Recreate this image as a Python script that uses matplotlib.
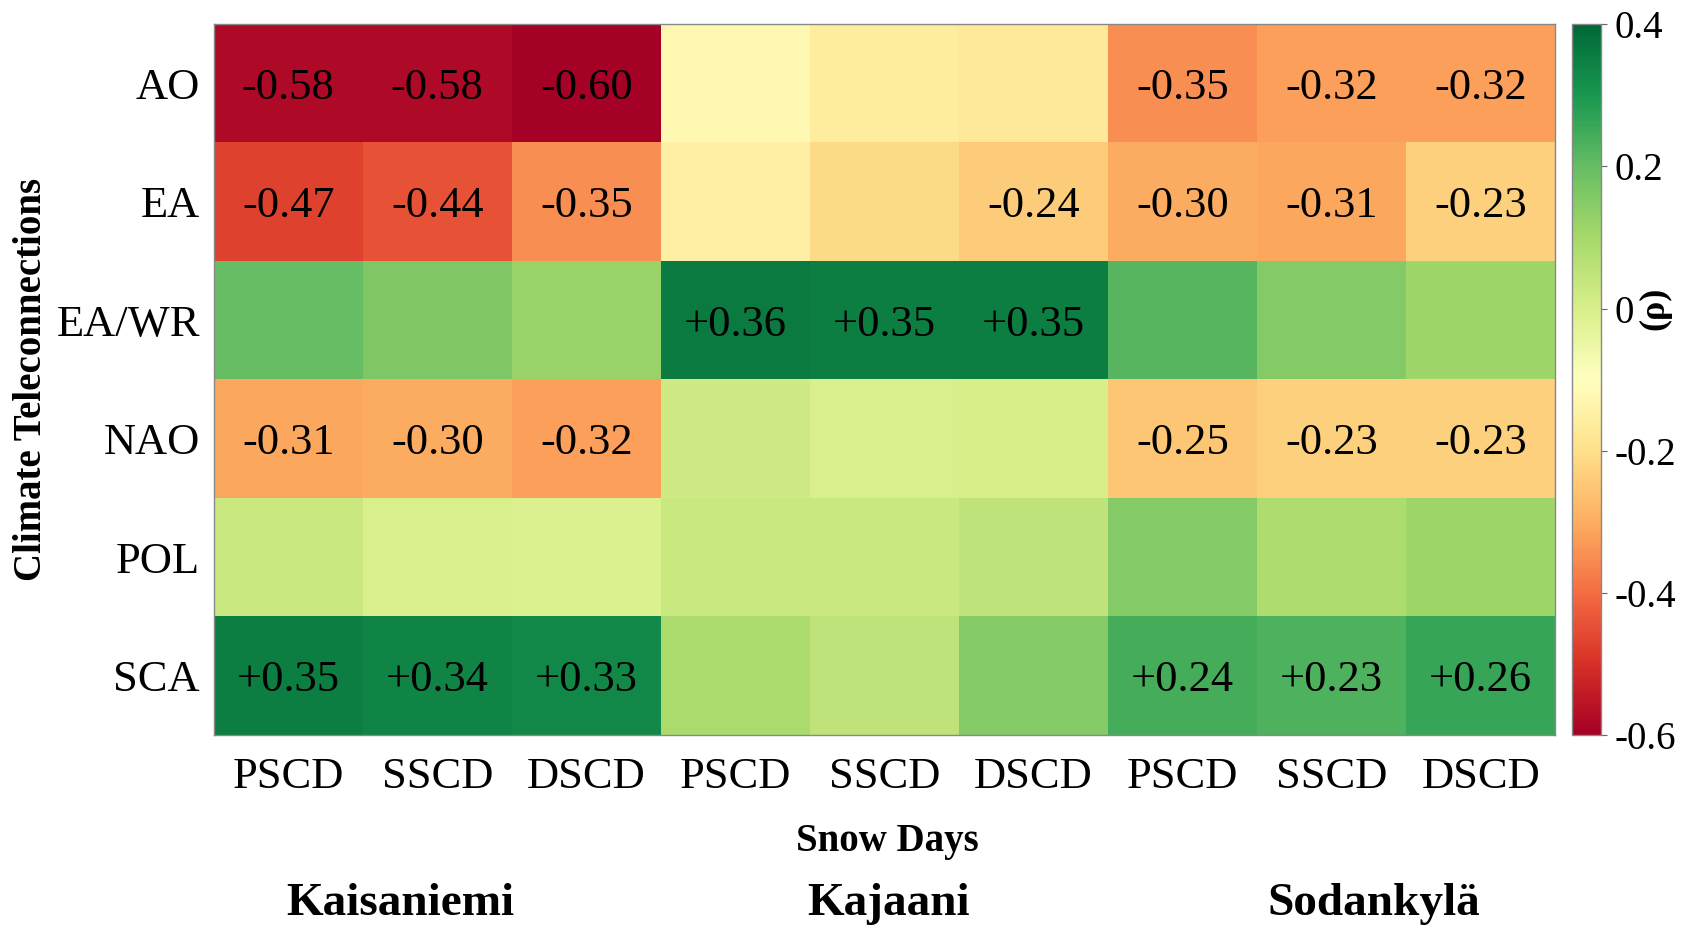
import numpy as np
import matplotlib
matplotlib.use("Agg")
import matplotlib.pyplot as plt

plt.rcParams['font.family'] = ['Liberation Serif', 'DejaVu Serif']

teleconnections = ["AO", "EA", "EA/WR", "NAO", "POL", "SCA"]
snow_days = ["PSCD", "SSCD", "DSCD"] * 3
stations = ["Kaisaniemi", "Kajaani", "Sodankylä"]

# correlation values (rows: teleconnections, cols: Kaisaniemi P/S/D, Kajaani P/S/D, Sodankylä P/S/D)
rho = np.array([
    [-0.58, -0.58, -0.60, -0.12, -0.16, -0.17, -0.35, -0.32, -0.32],
    [-0.47, -0.44, -0.35, -0.15, -0.21, -0.24, -0.30, -0.31, -0.23],
    [ 0.20,  0.16,  0.12,  0.36,  0.35,  0.35,  0.22,  0.15,  0.11],
    [-0.31, -0.30, -0.32,  0.02,  0.00,  0.005, -0.25, -0.23, -0.23],
    [ 0.03,  0.00, -0.01,  0.03,  0.03,  0.05,  0.15,  0.08,  0.11],
    [ 0.35,  0.34,  0.33,  0.09,  0.05,  0.15,  0.24,  0.23,  0.26],
])
# significant (annotated) cells
annot = np.array([
    [1, 1, 1, 0, 0, 0, 1, 1, 1],
    [1, 1, 1, 0, 0, 1, 1, 1, 1],
    [0, 0, 0, 1, 1, 1, 0, 0, 0],
    [1, 1, 1, 0, 0, 0, 1, 1, 1],
    [0, 0, 0, 0, 0, 0, 0, 0, 0],
    [1, 1, 1, 0, 0, 0, 1, 1, 1],
], dtype=bool)

cbar_ticks = [-0.6, -0.4, -0.2, 0.0, 0.2, 0.4]
cbar_labels = ["-0.6", "-0.4", "-0.2", "0", "0.2", "0.4"]

fig = plt.figure(figsize=(16.96, 9.31), dpi=100)
ax = fig.add_axes([0.126, 0.2105, 0.791, 0.7635])
cax = fig.add_axes([0.927, 0.2105, 0.017, 0.7635])

im = ax.imshow(rho, cmap="RdYlGn", vmin=-0.6, vmax=0.4, aspect="auto",
               interpolation="nearest")

for i in range(rho.shape[0]):
    for j in range(rho.shape[1]):
        if annot[i, j]:
            v = rho[i, j]
            txt = f"+{v:.2f}" if v > 0 else f"{v:.2f}"
            ax.text(j, i, txt, ha="center", va="center_baseline", fontsize=32, color="black")

ax.set_xticks(np.arange(len(snow_days)))
ax.set_xticklabels(snow_days, fontsize=32)
ax.set_yticks(np.arange(len(teleconnections)))
ax.set_yticklabels(teleconnections, fontsize=32)
ax.tick_params(axis="x", length=0, pad=16)
ax.tick_params(axis="y", length=0, pad=10)
for s in ax.spines.values():
    s.set_color("#888888")
    s.set_linewidth(1.0)

fig.text(32 / 1696, 1 - 379 / 931, "Climate Teleconnections", rotation=90,
         ha="center", va="center", fontsize=28, fontweight="bold")

fig.text(887 / 1696, 1 - 842 / 931, "Snow Days", ha="center", va="center",
         fontsize=28, fontweight="bold")
station_px = [400, 889, 1374]
for name, xp in zip(stations, station_px):
    fig.text(xp / 1696, 1 - 904 / 931, name, ha="center", va="center",
             fontsize=34, fontweight="bold")

cb = fig.colorbar(im, cax=cax, ticks=cbar_ticks)
cb.ax.set_yticklabels(cbar_labels, fontsize=28)
cb.ax.tick_params(length=4, width=0.8, color="#666666", pad=6)
cb.outline.set_edgecolor("#888888")
cb.outline.set_linewidth(1.0)
fig.text(1655 / 1696, 1 - 308 / 931, "(ρ)", rotation=90, ha="center", va="center",
         fontsize=26, fontweight="bold")

fig.savefig("out.png", dpi=100)
